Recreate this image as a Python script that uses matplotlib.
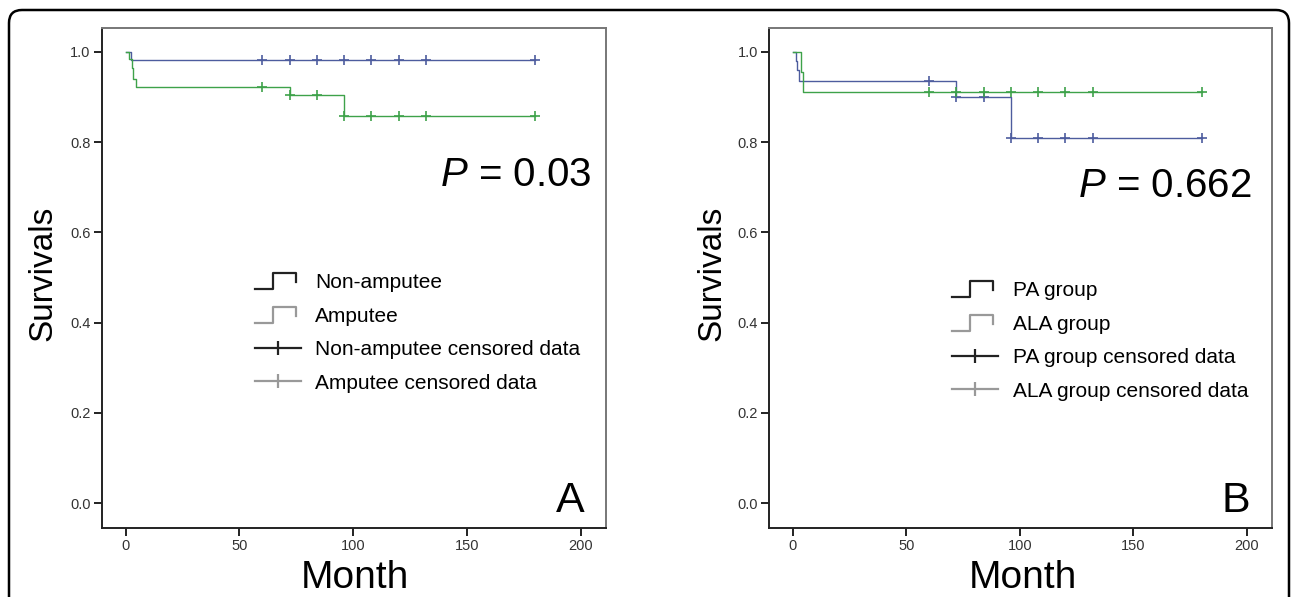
import numpy as np
import matplotlib
matplotlib.use('Agg')
import matplotlib.pyplot as plt
from matplotlib.lines import Line2D
from matplotlib.legend_handler import HandlerBase
from matplotlib.patches import FancyBboxPatch

# panel A: amputation status
a_non_t = [0, 2.4, 180]
a_non_s = [1.0, 0.982, 0.982]
a_amp_t = [0, 1.6, 2.7, 3.4, 4.6, 72, 96, 180]
a_amp_s = [1.0, 0.985, 0.965, 0.94, 0.923, 0.905, 0.859, 0.859]
a_non_cens = [60, 72, 84, 96, 108, 120, 132, 180]
a_amp_cens = [60, 72, 84, 96, 108, 120, 132, 180]

# panel B: PA vs ALA
b_pa_t = [0, 1.3, 2.0, 2.6, 72, 96, 180]
b_pa_s = [1.0, 0.98, 0.96, 0.936, 0.900, 0.810, 0.810]
b_ala_t = [0, 3.4, 4.3, 180]
b_ala_s = [1.0, 0.955, 0.911, 0.911]
b_pa_cens = [60, 72, 84, 96, 108, 120, 132, 180]
b_ala_cens = [60, 72, 84, 96, 108, 120, 132, 180]

labels_a = ['Non-amputee', 'Amputee', 'Non-amputee censored data', 'Amputee censored data']
labels_b = ['PA group', 'ALA group', 'PA group censored data', 'ALA group censored data']
p_values = ['0.03', '0.662']
panel_tags = ['A', 'B']

BLUE = '#4d5c9e'
GREEN = '#3ea24a'
FONT = ['Liberation Sans Narrow', 'Liberation Sans', 'DejaVu Sans']

plt.rcParams['font.family'] = FONT
plt.rcParams['mathtext.fontset'] = 'custom'
plt.rcParams['mathtext.it'] = 'Liberation Sans:italic'
plt.rcParams['mathtext.rm'] = 'Liberation Sans'


def step_at(t, s, x):
    idx = np.searchsorted(t, x, side='right') - 1
    return np.array(s)[idx]


class StepHandler(HandlerBase):
    def create_artists(self, legend, orig_handle, xdescent, ydescent,
                       width, height, fontsize, trans):
        xs = np.array([0.0, 0.4, 0.4, 0.9, 0.9]) * width - xdescent
        ys = np.array([0.0, 0.0, 1.0, 1.0, 0.45]) * height * 1.1 - ydescent - 1
        ln = Line2D(xs, ys, color=orig_handle.get_color(), lw=1.6, transform=trans)
        return [ln]


fig = plt.figure(figsize=(12.92, 5.97), dpi=100)
ax_a = fig.add_axes([101.7 / 1292, 1 - 528 / 597, 504.3 / 1292, 500 / 597])
ax_b = fig.add_axes([769 / 1292, 1 - 528 / 597, 503 / 1292, 500 / 597])

# rounded frame around the whole figure
border = FancyBboxPatch((0.09, -0.3), 12.80, 5.87 + 0.3,
                        boxstyle='round,pad=0,rounding_size=0.13',
                        transform=fig.dpi_scale_trans, fill=False,
                        ec='black', lw=1.8, clip_on=False)
fig.add_artist(border)


def draw_curve(ax, t, s, cens, color):
    t = np.array(t)
    ax.step(t, s, where='post', color=color, lw=1.0)
    ax.plot(cens, step_at(t, s, cens), ls='none', marker='+', ms=7,
            mew=1.2, color=color)


draw_curve(ax_a, a_non_t, a_non_s, a_non_cens, BLUE)
draw_curve(ax_a, a_amp_t, a_amp_s, a_amp_cens, GREEN)

grid = np.union1d(b_pa_t, b_ala_t)
pa_g = step_at(np.array(b_pa_t), b_pa_s, grid)
ala_g = step_at(np.array(b_ala_t), b_ala_s, grid)
ax_b.fill_between(grid, ala_g, pa_g, where=pa_g > ala_g, step='post',
                  color='#e9e9e9', lw=0, interpolate=False)
draw_curve(ax_b, b_pa_t, b_pa_s, b_pa_cens, BLUE)
draw_curve(ax_b, b_ala_t, b_ala_s, b_ala_cens, GREEN)

legend_pos = [(0.304, 0.51), (0.364, 0.494)]
for i, (ax, labels) in enumerate([(ax_a, labels_a), (ax_b, labels_b)]):
    ax.set_xlim(-10.5, 211)
    ax.set_ylim(-0.055, 1.053)
    ax.set_xticks([0, 50, 100, 150, 200])
    ax.set_yticks([0.0, 0.2, 0.4, 0.6, 0.8, 1.0])
    ax.set_yticklabels(['0.0', '0.2', '0.4', '0.6', '0.8', '1.0'])
    ax.tick_params(direction='out', length=6, width=1.4, labelsize=10.5,
                   labelcolor='#333333', color='#222222', pad=2)
    for side in ['left', 'bottom']:
        ax.spines[side].set_linewidth(1.4)
        ax.spines[side].set_color('#222222')
    for side in ['top', 'right']:
        ax.spines[side].set_linewidth(1.4)
        ax.spines[side].set_color('#777777')

    handles = [Line2D([], [], color='#222222'), Line2D([], [], color='#999999'),
               Line2D([], [], color='#222222', lw=1.6, marker='|', ms=10, mew=1.6),
               Line2D([], [], color='#999999', lw=1.6, marker='|', ms=10, mew=1.6)]
    ax.legend(handles, labels, loc='upper left', bbox_to_anchor=legend_pos[i],
              frameon=False, fontsize=15, handlelength=2.2, handletextpad=0.7,
              labelspacing=0.7, borderpad=0, borderaxespad=0,
              handler_map={handles[0]: StepHandler(), handles[1]: StepHandler()})

    ax.text(0.972 if i == 0 else 0.96, 0.684 if i == 0 else 0.662,
            '$P$ = ' + p_values[i], transform=ax.transAxes, ha='right',
            va='baseline', fontsize=29)
    ax.text(0.958 if i == 0 else 0.956, 0.032, panel_tags[i],
            transform=ax.transAxes, ha='right', va='baseline', fontsize=31)

fig.text(43 / 1292, 1 - 273 / 597, 'Survivals', rotation=90, ha='center',
         va='center', fontsize=24)
fig.text(712 / 1292, 1 - 273 / 597, 'Survivals', rotation=90, ha='center',
         va='center', fontsize=24)
fig.text(355 / 1292, 1 - 588 / 597, 'Month', ha='center', va='baseline',
         fontsize=28)
fig.text(1023 / 1292, 1 - 588 / 597, 'Month', ha='center', va='baseline',
         fontsize=28)

fig.savefig('out.png', dpi=100)
